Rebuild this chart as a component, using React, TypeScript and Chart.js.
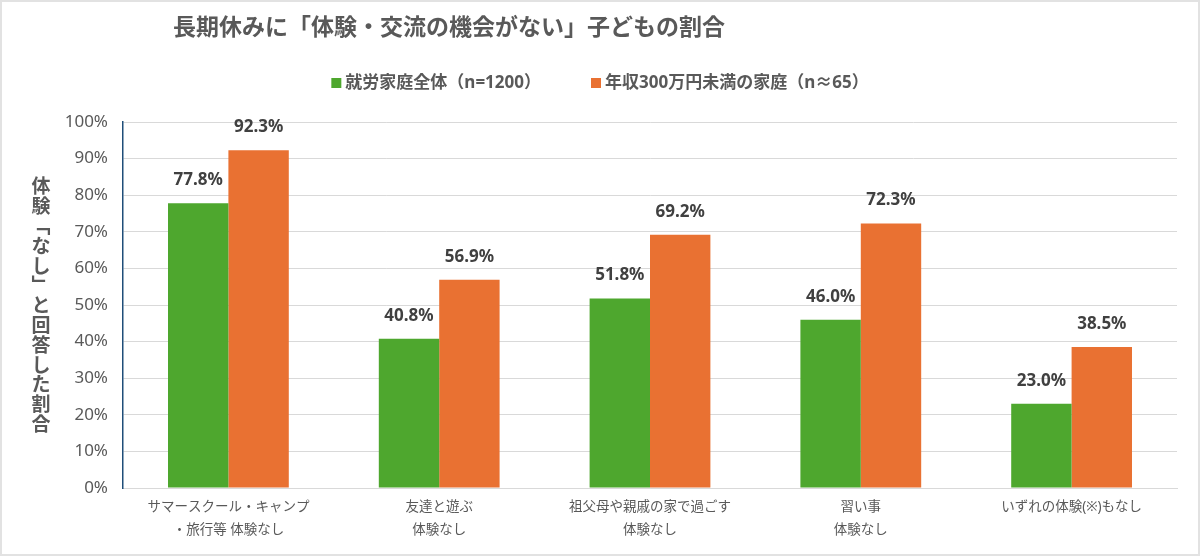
import React, { useEffect, useRef } from "react";
import { Chart, registerables } from "chart.js";

Chart.register(...registerables);

const chartTitle = "長期休みに「体験・交流の機会がない」子どもの割合";
const yAxisTitle = ["体", "験", "﹁", "な", "し", "﹂", "と", "回", "答", "し", "た", "割", "合"];
const categories: (string | string[])[] = [
  ["サマースクール・キャンプ", "・旅行等 体験なし"],
  ["友達と遊ぶ", "体験なし"],
  ["祖父母や親戚の家で過ごす", "体験なし"],
  ["習い事", "体験なし"],
  "いずれの体験(※)もなし",
];
const seriesNames = ["就労家庭全体（n=1200）", "年収300万円未満の家庭（n≈65）"];
const allFamilies = [77.8, 40.8, 51.8, 46.0, 23.0];
const lowIncome = [92.3, 56.9, 69.2, 72.3, 38.5];
const seriesColors = ["#4EA72E", "#E97132"];

const FONT = '"Noto Sans", "Noto Sans CJK JP", sans-serif';
const TEXT = "#595959";

const decorPlugin = {
  id: "decor",
  afterDraw(chart: any) {
    const ctx = chart.ctx;
    ctx.save();
    // title
    ctx.fillStyle = TEXT;
    ctx.font = `bold 23px ${FONT}`;
    ctx.textAlign = "left";
    ctx.textBaseline = "middle";
    ctx.fillText(chartTitle, 173, 28);

    // legend
    ctx.font = `bold 17px ${FONT}`;
    const sq = 10;
    const gapSq = 4;
    const gapItems = 50;
    const widths = seriesNames.map((n) => ctx.measureText(n).width);
    const total = widths.reduce((a, w) => a + sq + gapSq + w, 0) + gapItems * (seriesNames.length - 1);
    let x = 600 - total / 2;
    const ly = 83;
    seriesNames.forEach((n, i) => {
      ctx.fillStyle = seriesColors[i];
      ctx.fillRect(x, ly - sq / 2, sq, sq);
      x += sq + gapSq;
      ctx.fillStyle = TEXT;
      ctx.fillText(n, x, ly);
      x += widths[i] + gapItems;
    });

    // vertical y-axis title
    ctx.font = `bold 19px ${FONT}`;
    ctx.textAlign = "center";
    ctx.textBaseline = "middle";
    ctx.fillStyle = TEXT;
    yAxisTitle.forEach((c, i) => {
      ctx.fillText(c, 41, 188 + i * 19.8);
    });

    // data labels
    ctx.font = `bold 17px ${FONT}`;
    ctx.fillStyle = "#404040";
    ctx.textBaseline = "alphabetic";
    chart.data.datasets.forEach((ds: any, di: number) => {
      const meta = chart.getDatasetMeta(di);
      meta.data.forEach((bar: any, i: number) => {
        const v = ds.data[i] as number;
        ctx.fillText(v.toFixed(1) + "%", bar.x, bar.y - 18);
      });
    });
    ctx.restore();
  },
};

export default function App() {
  const ref = useRef<HTMLCanvasElement>(null);
  useEffect(() => {
    if (!ref.current) return;
    const chart = new Chart(ref.current, {
      type: "bar",
      data: {
        labels: categories,
        datasets: [
          { label: seriesNames[0], data: allFamilies, backgroundColor: seriesColors[0] },
          { label: seriesNames[1], data: lowIncome, backgroundColor: seriesColors[1] },
        ],
      },
      options: {
        responsive: false,
        animation: false,
        layout: { padding: { top: 122, right: 23, left: 0, bottom: 0 } },
        datasets: { bar: { barPercentage: 1, categoryPercentage: 0.573 } } as any,
        plugins: {
          legend: { display: false },
          title: { display: false },
          tooltip: { enabled: false },
        },
        scales: {
          x: {
            grid: { display: false, drawTicks: false },
            border: { color: "#d9d9d9", width: 1 },
            ticks: {
              color: TEXT,
              font: { family: FONT, size: 13.5, lineHeight: 1.7 },
              padding: 8,
              maxRotation: 0,
              autoSkip: false,
            },
            afterFit(scale: any) {
              scale.height = 68;
            },
          },
          y: {
            min: 0,
            max: 100,
            ticks: {
              stepSize: 10,
              color: TEXT,
              font: { family: FONT, size: 17 },
              padding: 15,
              callback: (v: any) => v + "%",
            },
            grid: { color: "#d9d9d9", drawTicks: false },
            border: { color: "#1F4E79", width: 1.5 },
            afterFit(scale: any) {
              scale.width = 123;
            },
          },
        },
      },
      plugins: [decorPlugin],
    });
    return () => chart.destroy();
  }, []);
  return (
    <div
      style={{
        position: "fixed",
        left: 0,
        top: 0,
        width: 1200,
        height: 556,
        boxSizing: "border-box",
        border: "2px solid #e2e2e2",
        background: "#fff",
      }}
    >
      <canvas
        ref={ref}
        width={1200}
        height={556}
        style={{ position: "absolute", left: -2, top: -2, display: "block" }}
      />
    </div>
  );
}
